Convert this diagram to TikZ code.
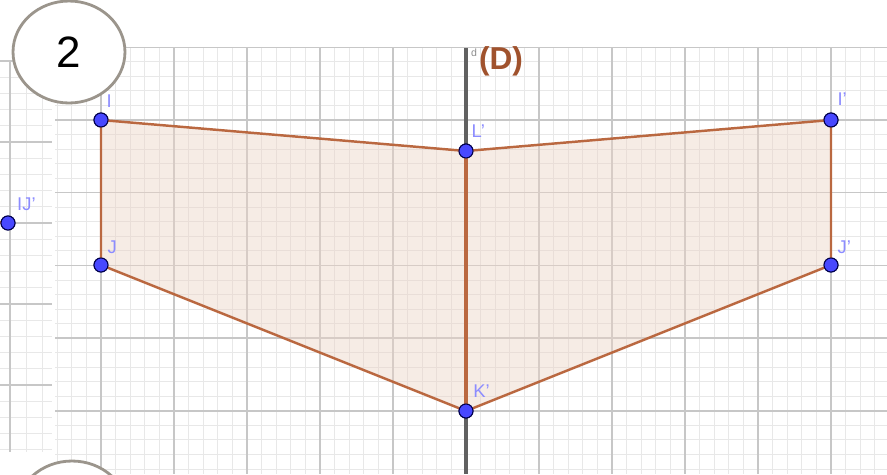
\documentclass[tikz,border=0pt]{standalone}
\usepackage{fontspec}
\setmainfont{Liberation Sans}
\usetikzlibrary{positioning,shapes.geometric}
\definecolor{edgebrown}{RGB}{186,104,64}
\definecolor{fillbrown}{RGB}{236,212,198}
\definecolor{dotblue}{RGB}{72,72,255}
\definecolor{labblue}{RGB}{140,140,255}
\definecolor{dbrown}{RGB}{160,82,45}
\definecolor{ringgray}{RGB}{155,149,140}

\begin{document}
\begin{tikzpicture}[x=0.02cm,y=-0.02cm,
  minorline/.style={draw=black!9,line width=0.5pt},
  majorline/.style={draw=black!22,line width=0.8pt},
  vertex/.style={circle,fill=dotblue,draw=black!70!blue,line width=0.6pt,inner sep=0pt,minimum size=0.28cm},
  ptlabel/.style={text=labblue,font=\fontsize{10.5}{11}\selectfont,inner sep=0pt},
  polyedge/.style={draw=edgebrown,line width=1.4pt,line join=round},
  bubble/.style={ellipse,draw=ringgray,fill=white,line width=1.6pt,inner sep=0pt,
    minimum width=2.24cm,minimum height=2.04cm}]
  \useasboundingbox (0,0) rectangle (887,474);
  \clip (0,0) rectangle (887,474);

  % main grid
  \foreach \k in {-28,...,28}
    \draw[minorline] ({466+14.6*\k},48) -- ({466+14.6*\k},474);
  \foreach \k in {-4,...,24}
    \draw[minorline] (55,{120+14.54*\k}) -- (887,{120+14.54*\k});
  \foreach \k in {-5,...,5}
    \draw[majorline] ({466+73*\k},48) -- ({466+73*\k},474);
  \foreach \k in {-1,...,4}
    \draw[majorline] (55,{120+72.7*\k}) -- (887,{120+72.7*\k});

  % left strip
  \foreach \k in {0,...,2}
    \draw[minorline] ({10+16.2*\k},60) -- ({10+16.2*\k},452);
  \foreach \k in {-5,...,19}
    \draw[minorline] (0,{142+16.2*\k}) -- (52,{142+16.2*\k});
  \draw[majorline] (10,60) -- (10,452);
  \foreach \k in {-1,...,3}
    \draw[majorline] (0,{142+81*\k}) -- (52,{142+81*\k});

  % axis (D)
  \coordinate (axtop) at (466,48);
  \coordinate (axbot) at (466,474);
  \draw[black!62,line width=1.8pt] (axtop) -- (axbot);
  \node[text=black!45,font=\fontsize{6}{6}\selectfont,inner sep=0pt] (dsmall) at (474,53) {d};
  \node[text=dbrown,font=\bfseries\fontsize{18}{18}\selectfont,inner sep=0pt] (dname) at (501,61) {(D)};

  % points
  \node[vertex] (I) at (101,120) {};
  \node[vertex] (J) at (101,265) {};
  \node[vertex] (Lp) at (466,151) {};
  \node[vertex] (Kp) at (466,411) {};
  \node[vertex] (Ip) at (831,120) {};
  \node[vertex] (Jp) at (831,265) {};
  \node[vertex] (IJp) at (8,223) {};
  \coordinate (stub) at (-6,222);

  % polygon
  \filldraw[polyedge,fill=fillbrown,fill opacity=0.45] (I.center) -- (Lp.center) -- (Ip.center) -- (Jp.center)
    -- (Kp.center) -- (J.center) -- cycle;
  \draw[polyedge,line width=2pt] (Lp.center) -- (Kp.center);
  \draw[polyedge] (stub) -- (IJp.center);

  % points again on top
  \foreach \p in {I,J,Lp,Kp,Ip,Jp,IJp}
    \node[vertex] at (\p) {};

  % labels
  \node[ptlabel,above right=4pt and 0pt of I] (lI) {I};
  \node[ptlabel,above right=3.5pt and 0.5pt of J] (lJ) {J};
  \node[ptlabel,above right=4.5pt and 0pt of Lp] (lLp) {L'};
  \node[ptlabel,above right=5pt and 0.5pt of Ip] (lIp) {I'};
  \node[ptlabel,above right=3.5pt and 0.5pt of Jp] (lJp) {J'};
  \node[ptlabel,above right=4.5pt and 1pt of Kp] (lKp) {K'};
  \node[ptlabel,above right=4pt and 2pt of IJp] (lIJp) {IJ'};

  % numbered bubbles
  \node[bubble,font=\fontsize{25}{25}\selectfont] (num) at (69,52) {2};
  \node[bubble] (nextnum) at (72,512) {};
\end{tikzpicture}
\end{document}
